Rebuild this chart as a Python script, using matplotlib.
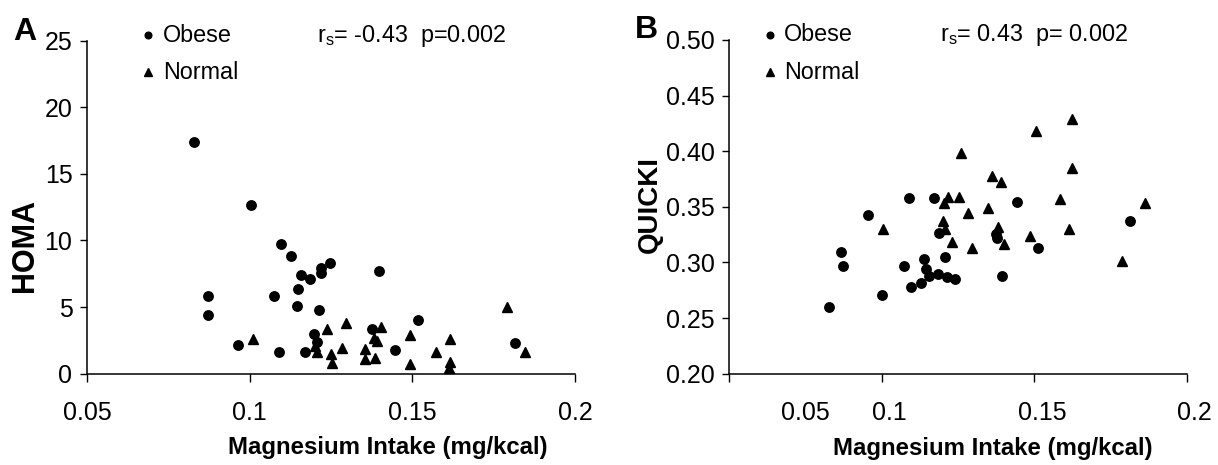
import matplotlib
matplotlib.use("Agg")
import matplotlib.pyplot as plt
from matplotlib.transforms import ScaledTranslation

plt.rcParams['font.family'] = ['Liberation Sans', 'DejaVu Sans']
plt.rcParams['mathtext.fontset'] = 'custom'
plt.rcParams['mathtext.rm'] = 'Liberation Sans'

# ---------------- data ----------------
homa_obese_x = [0.0829, 0.1005, 0.1095, 0.1127, 0.1159, 0.1186, 0.1219, 0.1219, 0.1246, 0.1399,
                0.0872, 0.0872, 0.1074, 0.1149, 0.1144, 0.1213, 0.1516, 0.0963, 0.1090, 0.1171,
                0.1198, 0.1207, 0.1377, 0.1447, 0.1817]
homa_obese_y = [17.4, 12.7, 9.73, 8.83, 7.40, 7.13, 7.90, 7.53, 8.33, 7.68,
                5.85, 4.40, 5.85, 6.35, 5.05, 4.80, 4.03, 2.18, 1.65, 1.65,
                2.98, 2.38, 3.35, 1.78, 2.33]
homa_normal_x = [0.1009, 0.1238, 0.1295, 0.1207, 0.1200, 0.1250, 0.1253, 0.1285, 0.1403, 0.1381,
                 0.1391, 0.1353, 0.1353, 0.1386, 0.1492, 0.1492, 0.1574, 0.1617, 0.1617, 0.1612,
                 0.1791, 0.1845]
homa_normal_y = [2.60, 3.35, 3.78, 1.65, 2.05, 1.45, 0.83, 1.95, 3.53, 2.70,
                 2.45, 1.83, 1.08, 1.20, 2.90, 0.70, 1.60, 2.60, 0.90, 0.45,
                 5.03, 1.60]

quicki_obese_x = [0.0827, 0.0866, 0.0872, 0.0955, 0.1000, 0.1090, 0.1073, 0.1097, 0.1128, 0.1139,
                  0.1145, 0.1156, 0.1170, 0.1183, 0.1189, 0.1207, 0.1213, 0.1241, 0.1375, 0.1377,
                  0.1393, 0.1442, 0.1511, 0.1813]
quicki_obese_y = [0.2597, 0.3097, 0.2969, 0.3427, 0.2705, 0.3583, 0.2969, 0.2782, 0.2813, 0.3034,
                  0.2942, 0.2879, 0.3583, 0.2894, 0.3268, 0.3047, 0.2867, 0.2849, 0.3254, 0.3218,
                  0.2879, 0.3547, 0.3128, 0.3376]
quicki_normal_x = [0.1625, 0.1506, 0.1260, 0.1625, 0.1362, 0.1392, 0.1216, 0.1254, 0.1205, 0.1584,
                   0.1864, 0.1003, 0.1202, 0.1207, 0.1231, 0.1282, 0.1295, 0.1349, 0.1382, 0.1401,
                   0.1485, 0.1614, 0.1787]
quicki_normal_y = [0.4290, 0.4183, 0.3982, 0.3853, 0.3778, 0.3727, 0.3586, 0.3586, 0.3532, 0.3574,
                   0.3538, 0.3301, 0.3376, 0.3301, 0.3182, 0.3442, 0.3128, 0.3487, 0.3322, 0.3164,
                   0.3238, 0.3301, 0.3016]

x_ticks = [0.05, 0.10, 0.15, 0.20]
x_ticklabels = ['0.05', '0.1', '0.15', '0.2']
homa_ticks = [0, 5, 10, 15, 20, 25]
homa_ticklabels = ['0', '5', '10', '15', '20', '25']
quicki_ticks = [0.20, 0.25, 0.30, 0.35, 0.40, 0.45, 0.50]
quicki_ticklabels = ['0.20', '0.25', '0.30', '0.35', '0.40', '0.45', '0.50']

xlabel = 'Magnesium Intake (mg/kcal)'
legend_labels = ['Obese', 'Normal']

# ---------------- figure ----------------
W, H = 1218, 465
fig = plt.figure(figsize=(W / 100, H / 100), dpi=100)
fig.patch.set_facecolor('white')

def px_axes(x0, x1, ytop, ybot):
    return [x0 / W, (H - ybot) / H, (x1 - x0) / W, (ybot - ytop) / H]

axA = fig.add_axes(px_axes(87, 575, 40.7, 373.7))
axB = fig.add_axes(px_axes(729.3, 1186.7, 40.0, 373.7))

TICK_FS = 18
LAB_FS = 17.3
LEG_FS = 16.8
XPAD = 13.5

def style(ax, yticks, yticklabels, ylim, xlabels):
    ax.set_xlim(0.05, 0.20)
    ax.set_ylim(*ylim)
    ax.set_xticks(x_ticks)
    ax.set_xticklabels(xlabels, fontsize=TICK_FS)
    ax.set_yticks(yticks)
    ax.set_yticklabels(yticklabels, fontsize=TICK_FS)
    for s in ['top', 'right']:
        ax.spines[s].set_visible(False)
    for s in ['left', 'bottom']:
        ax.spines[s].set_linewidth(1.1)
        ax.spines[s].set_color('black')
    ax.tick_params(axis='x', direction='out', length=6, width=1.0, pad=XPAD, colors='black')
    ax.tick_params(axis='y', direction='out', length=5, width=1.0, pad=5.5, colors='black')
    ax.set_facecolor('white')

style(axA, homa_ticks, homa_ticklabels, (0, 25), x_ticklabels)
# panel B: x tick labels sit a little right of their ticks; the first one much further
style(axB, quicki_ticks, quicki_ticklabels, (0.20, 0.50), [''] + x_ticklabels[1:])
shift = ScaledTranslation(8 / 100, 0, fig.dpi_scale_trans)
for lab in axB.get_xticklabels():
    lab.set_transform(lab.get_transform() + shift)
axB.annotate(x_ticklabels[0], xy=(x_ticks[0], 0), xycoords=('data', 'axes fraction'),
             xytext=(76, -(6 + XPAD) * 100 / 72), textcoords='offset pixels',
             ha='center', va='top', fontsize=TICK_FS, annotation_clip=False)

MS_C = 6.8
MS_T = 7.8
for ax, ox, oy, nx, ny in [(axA, homa_obese_x, homa_obese_y, homa_normal_x, homa_normal_y),
                           (axB, quicki_obese_x, quicki_obese_y, quicki_normal_x, quicki_normal_y)]:
    ax.plot(nx, ny, linestyle='none', marker='^', markersize=MS_T, color='black', clip_on=False)
    ax.plot(ox, oy, linestyle='none', marker='o', markersize=MS_C, color='black', clip_on=False)

# axis labels
axA.set_xlabel(xlabel, fontsize=LAB_FS, fontweight='bold')
axA.xaxis.set_label_coords(0.617, -0.223)
axA.xaxis.label.set_va('center')
axB.set_xlabel(xlabel, fontsize=LAB_FS, fontweight='bold')
axB.xaxis.set_label_coords(0.577, -0.223)
axB.xaxis.label.set_va('center')

axA.set_ylabel('HOMA', fontsize=22, fontweight='bold')
axA.yaxis.set_label_coords(-0.127, 0.386)
axA.yaxis.label.set_va('center')
axB.set_ylabel('QUICKI', fontsize=20, fontweight='bold')
axB.yaxis.set_label_coords(-0.173, 0.506)
axB.yaxis.label.set_va('center')

# manual legends and stats text
def legend(ax, mx, tx, y1, y2):
    ax.plot([mx], [y1], marker='o', markersize=4.8, color='black', transform=ax.transAxes, clip_on=False)
    ax.plot([mx], [y2], marker='^', markersize=5.4, color='black', transform=ax.transAxes, clip_on=False)
    ax.text(tx, y1, legend_labels[0], transform=ax.transAxes, fontsize=LEG_FS, va='center', ha='left')
    ax.text(tx, y2, legend_labels[1], transform=ax.transAxes, fontsize=LEG_FS, va='center', ha='left')

legend(axA, 0.1256, 0.155, 1.017, 0.906)
legend(axB, 0.089, 0.120, 1.015, 0.904)

axA.text(0.4707, 1.014, r'r$_\mathregular{s}$= -0.43  p=0.002', transform=axA.transAxes,
         fontsize=16.8, va='center', ha='left')
axB.text(0.4606, 1.015, r'r$_\mathregular{s}$= 0.43  p= 0.002', transform=axB.transAxes,
         fontsize=16.8, va='center', ha='left')

fig.text(25 / W, 1 - 32 / H, 'A', fontsize=23, fontweight='bold', ha='center', va='center')
fig.text(646 / W, 1 - 30 / H, 'B', fontsize=23, fontweight='bold', ha='center', va='center')

fig.savefig('out.png', dpi=100, facecolor='white')
